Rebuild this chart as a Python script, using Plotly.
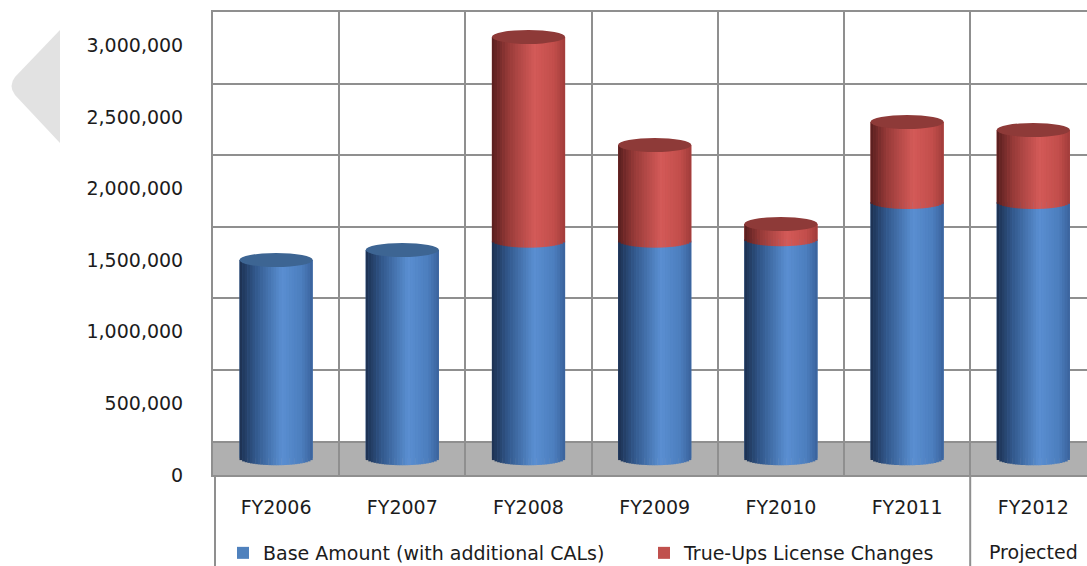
import math
import plotly.graph_objects as go

# ---------------- data ----------------
categories = ["FY2006", "FY2007", "FY2008", "FY2009", "FY2010", "FY2011", "FY2012"]
base_amount = [1385000, 1455000, 1520000, 1520000, 1530000, 1790000, 1790000]
true_ups = [0, 0, 1423000, 668000, 106000, 559000, 503000]
y_tick_values = [0, 500000, 1000000, 1500000, 2000000, 2500000, 3000000]
series_names = ["Base Amount (with additional CALs)", "True-Ups License Changes"]
note_text = "Projected"

# ---------------- geometry / style ----------------
W, H = 1087, 566
ML, MT, MR, MB = 213, 12, 0, 91
PW, PH = W - ML - MR, H - MT - MB
CAT_PX = 126.2
DEPTH = 117000          # half depth of the 3-D floor, in value units
X_RANGE = [-0.5, -0.5 + PW / CAT_PX]
Y_RANGE = [-DEPTH, max(y_tick_values) + DEPTH]
PX_PER_VAL = PH / (Y_RANGE[1] - Y_RANGE[0])
CAP_B = 7 / PX_PER_VAL  # ellipse half height in value units
HALF_W = 0.29           # cylinder half width in category units
N_STRIPS = 28

FONT = "DejaVu Sans"
TXT = "#1c1c1c"
GRID = "#8f8f8f"
FLOOR = "#b0b0b0"

BLUE_STOPS = [(0.0, (28, 48, 80)), (0.22, (50, 88, 140)), (0.58, (90, 143, 210)),
              (0.85, (76, 126, 190)), (1.0, (58, 98, 155))]
RED_STOPS = [(0.0, (88, 30, 30)), (0.22, (150, 58, 56)), (0.58, (212, 90, 88)),
             (0.85, (194, 78, 75)), (1.0, (160, 60, 58))]
BLUE_CAP = "#3d6593"
RED_CAP = "#8e3a38"
BLUE_SOLID = "#4f81bd"
RED_SOLID = "#c0504d"


def shade(stops, t):
    for (t0, c0), (t1, c1) in zip(stops[:-1], stops[1:]):
        if t0 <= t <= t1:
            f = (t - t0) / (t1 - t0)
            return "rgb(%d,%d,%d)" % tuple(round(a + (b - a) * f) for a, b in zip(c0, c1))
    return "rgb(%d,%d,%d)" % stops[-1][1]


def px_x(px):
    return (px - ML) / PW


def px_y(py):
    return (MT + PH - py) / PH


xs = list(range(len(categories)))
totals = [b + t for b, t in zip(base_amount, true_ups)]

fig = go.Figure()

# solid series bars (legend carriers, hidden under the shaded strips)
fig.add_trace(go.Bar(x=xs, y=base_amount, name=series_names[0], width=2 * HALF_W,
                     marker=dict(color=BLUE_SOLID, line=dict(width=0)),
                     legend="legend", hoverinfo="skip"))
fig.add_trace(go.Bar(x=xs, y=[t if t > 0 else None for t in true_ups],
                     base=base_amount, name=series_names[1], width=2 * HALF_W,
                     marker=dict(color=RED_SOLID, line=dict(width=0)),
                     legend="legend2", hoverinfo="skip"))

# shaded cylinder strips
sw = 2 * HALF_W / N_STRIPS
for series in (0, 1):
    for j in range(N_STRIPS):
        t = (j + 0.5) / N_STRIPS
        u = 2 * t - 1
        s = math.sqrt(max(0.0, 1 - u * u))
        dip = CAP_B * s
        off = -HALF_W + j * sw
        wdt = sw * (1.15 if j < N_STRIPS - 1 else 1.0)
        if series == 0:
            ys = [b + dip for b in base_amount]
            bases = [-dip] * len(xs)
            col = shade(BLUE_STOPS, t)
        else:
            ys = [tu + dip if tu > 0 else None for tu in true_ups]
            bases = [b - dip for b in base_amount]
            col = shade(RED_STOPS, t)
        fig.add_trace(go.Bar(x=xs, y=ys, base=bases, offset=off, width=wdt,
                             marker=dict(color=col, line=dict(width=0)),
                             showlegend=False, hoverinfo="skip"))

shapes = []
# 3-D floor
shapes.append(dict(type="rect", xref="paper", yref="y", x0=0, x1=1,
                   y0=-DEPTH, y1=DEPTH, fillcolor=FLOOR, line=dict(width=0),
                   layer="below"))
# cylinder caps
for i in xs:
    if true_ups[i] > 0:
        top, col = totals[i], RED_CAP
    else:
        top, col = base_amount[i], BLUE_CAP
    shapes.append(dict(type="circle", xref="x", yref="y",
                       x0=i - HALF_W, x1=i + HALF_W, y0=top - CAP_B, y1=top + CAP_B,
                       fillcolor=col, line=dict(width=0), layer="above"))
# table border lines below the plot
for xv, dx in ((-0.5, 2 / CAT_PX), (len(categories) - 1.5, 0)):
    shapes.append(dict(type="line", xref="x", yref="paper",
                       x0=xv + dx, x1=xv + dx, y0=0, y1=-MB / PH,
                       line=dict(color=GRID, width=2)))
# navigation arrow on the left
tri = "M %f,%f L %f,%f Q %f,%f %f,%f L %f,%f Z" % (
    px_x(60), px_y(30), px_x(15), px_y(77), px_x(8), px_y(86), px_x(15), px_y(95),
    px_x(60), px_y(143))
shapes.append(dict(type="path", xref="paper", yref="paper", path=tri,
                   fillcolor="#e2e2e2", line=dict(width=0), layer="below"))

fig.update_layout(
    width=W, height=H,
    margin=dict(l=ML, r=MR, t=MT, b=MB, pad=0, autoexpand=False),
    paper_bgcolor="white", plot_bgcolor="white",
    barmode="overlay",
    font=dict(family=FONT, size=19, color=TXT),
    shapes=shapes,
    xaxis=dict(range=X_RANGE, tickmode="array", tickvals=xs, ticktext=categories,
               showgrid=False, zeroline=False, ticks="", ticklabelstandoff=14,
               showline=True, mirror=True, linecolor=GRID, linewidth=2,
               minor=dict(tickmode="array",
                          tickvals=[i - 0.5 for i in range(len(categories) + 1)],
                          showgrid=True, gridcolor=GRID, gridwidth=2, ticks=""),
               automargin=False, fixedrange=True),
    yaxis=dict(range=Y_RANGE, tickmode="array",
               tickvals=[v - DEPTH for v in y_tick_values],
               ticktext=[f"{v:,}" for v in y_tick_values],
               showgrid=False, zeroline=False, ticks="", ticklabelstandoff=24,
               showline=True, linecolor=GRID, linewidth=2,
               minor=dict(tickmode="array",
                          tickvals=[v + DEPTH for v in y_tick_values],
                          showgrid=True, gridcolor=GRID, gridwidth=2, ticks=""),
               automargin=False, fixedrange=True),
    legend=dict(orientation="h", xref="paper", yref="paper",
                x=px_x(223), y=px_y(553), xanchor="left", yanchor="middle",
                bgcolor="rgba(0,0,0,0)", font=dict(family=FONT, size=19, color=TXT)),
    legend2=dict(orientation="h", xref="paper", yref="paper",
                 x=px_x(644), y=px_y(553), xanchor="left", yanchor="middle",
                 bgcolor="rgba(0,0,0,0)", font=dict(family=FONT, size=19, color=TXT)),
    annotations=[dict(x=len(categories) - 1, y=px_y(552), xref="x", yref="paper",
                      yanchor="middle", text=note_text, showarrow=False,
                      font=dict(family=FONT, size=19, color=TXT))],
)

fig.write_html("out.html")
